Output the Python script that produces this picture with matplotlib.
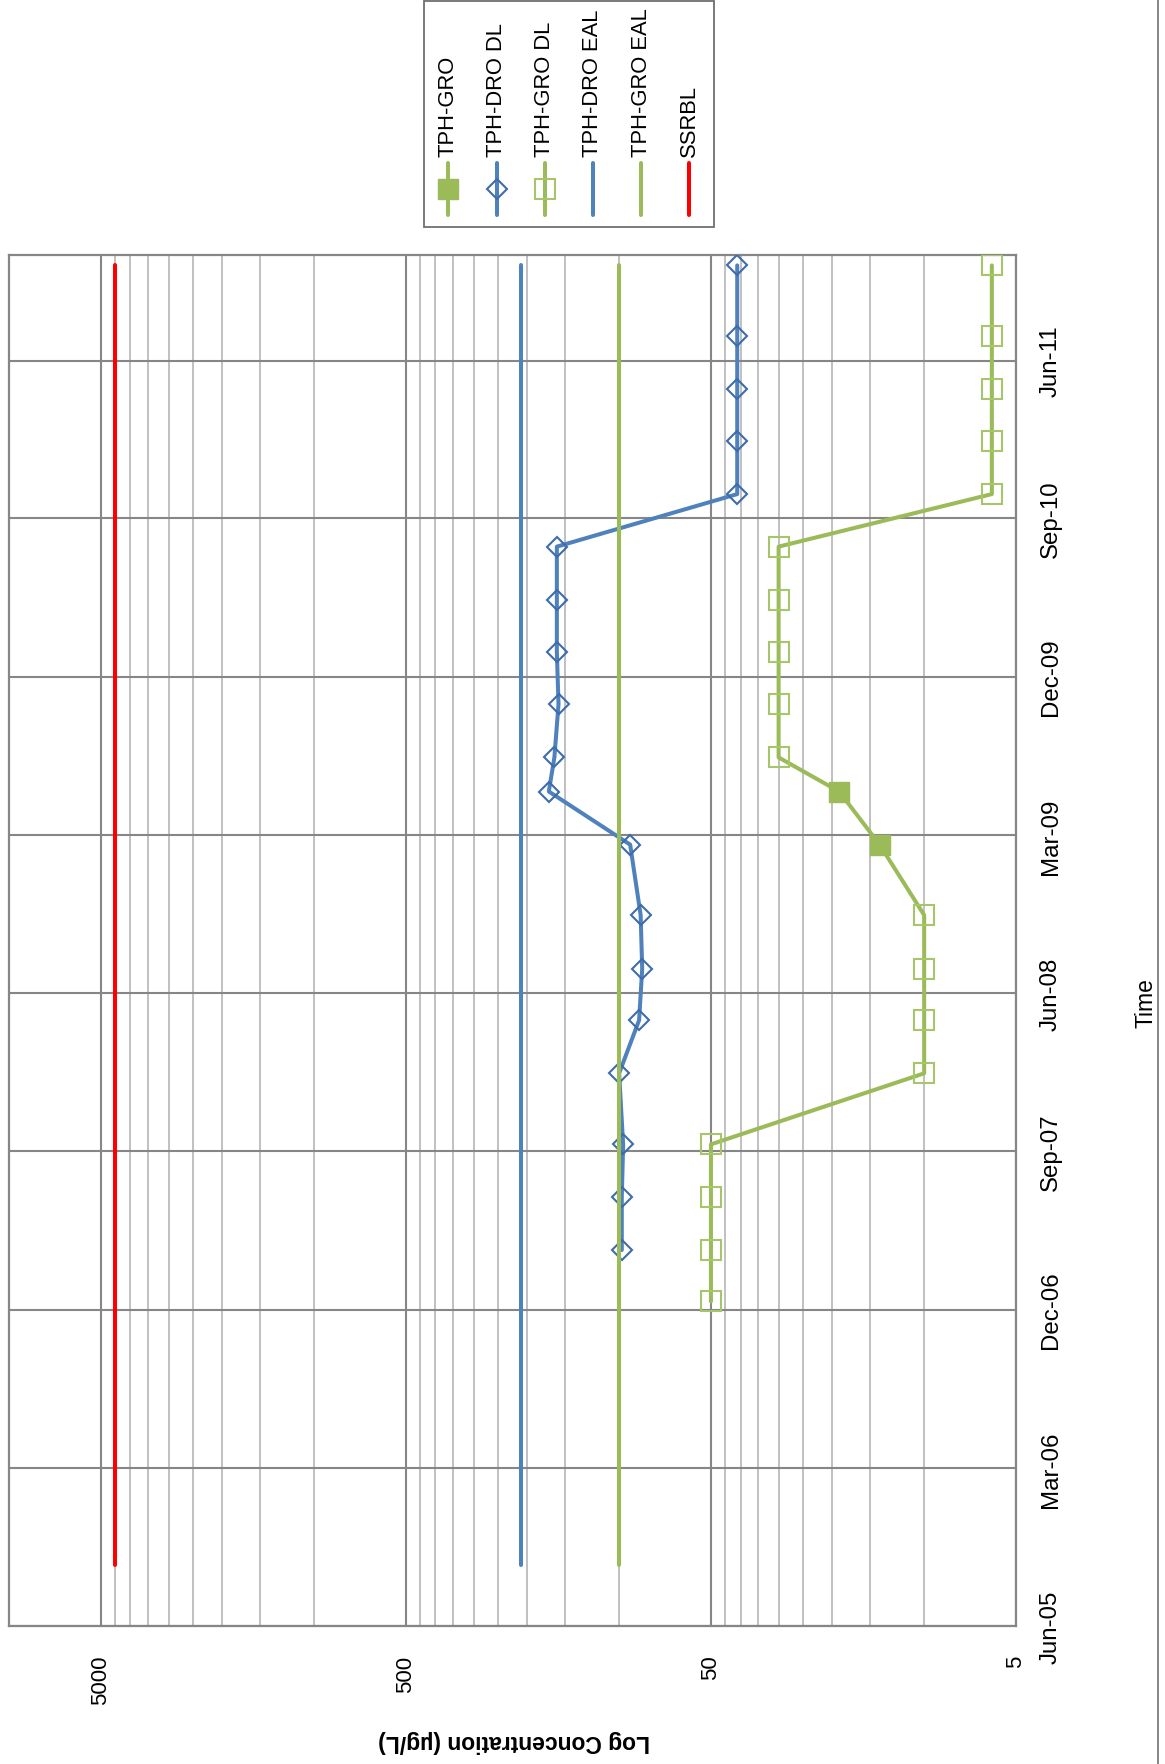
import matplotlib
matplotlib.use("Agg")
import matplotlib.pyplot as plt
import matplotlib.dates as mdates
from matplotlib import font_manager
from matplotlib.ticker import FixedLocator, NullFormatter
import pandas as pd

# ---------------- data ----------------
gro_dl_dates = ['2006-12-15', '2007-03-14', '2007-06-14', '2007-09-13', '2008-01-14',
                '2008-04-15', '2008-07-13', '2008-10-14', '2009-07-14', '2009-10-14',
                '2010-01-13', '2010-04-13', '2010-07-14', '2010-10-13', '2011-01-13',
                '2011-04-13', '2011-07-13', '2011-11-13']
gro_dl_vals = [50, 50, 50, 50, 10, 10, 10, 10, 30, 30, 30, 30, 30, 6, 6, 6, 6, 6]

gro_dates = ['2009-02-13', '2009-05-16']
gro_vals = [14, 19]

dro_dl_dates = ['2007-03-14', '2007-06-14', '2007-09-13', '2008-01-14', '2008-04-15',
                '2008-07-13', '2008-10-14', '2009-02-13', '2009-05-16', '2009-07-14',
                '2009-10-14', '2010-01-13', '2010-04-13', '2010-07-14', '2010-10-13',
                '2011-01-13', '2011-04-13', '2011-07-13', '2011-11-13']
dro_dl_vals = [98, 98, 97, 100, 86, 84, 85, 92, 170, 163, 158, 160, 160, 160,
               41, 41, 41, 41, 41]

limit_dates = ['2005-09-15', '2011-11-13']
dro_eal = [210, 210]
gro_eal = [100, 100]
ssrbl = [4500, 4500]

time_ticks = ['Jun-05', 'Mar-06', 'Dec-06', 'Sep-07', 'Jun-08', 'Mar-09', 'Dec-09',
              'Sep-10', 'Jun-11']
time_range = ['2005-06-01', '2011-12-01']
conc_ticks = [5, 50, 500, 5000]
conc_range = [5, 10000]

legend_labels = ['TPH-GRO', 'TPH-DRO DL', 'TPH-GRO DL', 'TPH-DRO EAL', 'TPH-GRO EAL', 'SSRBL']

# ---------------- fonts ----------------
names = {f.name for f in font_manager.fontManager.ttflist}
narrow = 'Liberation Sans Narrow' if 'Liberation Sans Narrow' in names else None
regular = 'Liberation Sans' if 'Liberation Sans' in names else 'DejaVu Sans'
tick_font = narrow or regular
time_fs = 21.2 if narrow else 17.3
conc_fs = 19.6 if narrow else 16.0

BLUE = '#4F81BD'
BLUE_EDGE = '#3E6CAA'
GREEN = '#9BBB59'
GREEN_EDGE = '#A7C66C'
RED = '#FF0000'
MAJ = '#868686'
MIN = '#C0C0C0'

W, H = 1165, 1765
fig = plt.figure(figsize=(W / 100, H / 100), dpi=100)
fig.patch.set_facecolor('white')

ax = fig.add_axes([9 / W, 1 - 1627 / H, (1016 - 9) / W, (1627 - 256) / H])

to_dt = lambda s: pd.to_datetime(pd.Series(s))

lw = 2.9
# combined GRO line (detects + detection limits, in date order)
gro_all = pd.DataFrame({'d': list(to_dt(gro_dl_dates)) + list(to_dt(gro_dates)),
                        'v': gro_dl_vals + gro_vals}).sort_values('d')
ax.plot(gro_all['v'], gro_all['d'], color=GREEN, lw=lw, solid_capstyle='round', zorder=3)
ax.plot(gro_vals, to_dt(gro_dates), ls='none', marker='s', ms=14.2,
        mfc=GREEN, mec=GREEN, mew=1.0, zorder=4)
ax.plot(dro_dl_vals, to_dt(dro_dl_dates), color=BLUE, lw=lw, solid_capstyle='round',
        marker='D', ms=10.0, mfc='none', mec=BLUE_EDGE, mew=1.5, zorder=5)
ax.plot(gro_dl_vals, to_dt(gro_dl_dates), ls='none', marker='s', ms=13.8,
        mfc='none', mec=GREEN_EDGE, mew=1.5, zorder=6)
ax.plot(dro_eal, to_dt(limit_dates), color=BLUE, lw=lw, solid_capstyle='round', zorder=7)
ax.plot(gro_eal, to_dt(limit_dates), color=GREEN, lw=lw, solid_capstyle='round', zorder=8)
ax.plot(ssrbl, to_dt(limit_dates), color=RED, lw=lw, solid_capstyle='round', zorder=9)

# x axis: log concentration, reversed
ax.set_xscale('log')
ax.set_xlim(conc_range[1], conc_range[0])
ax.xaxis.set_major_locator(FixedLocator(conc_ticks))
ax.set_xticklabels([str(t) for t in conc_ticks], rotation=90, fontsize=conc_fs,
                   fontfamily=tick_font)
minor = [m * 5 * 10 ** k for k in range(0, 3) for m in range(2, 10)]
ax.xaxis.set_minor_locator(FixedLocator(minor))
ax.xaxis.set_minor_formatter(NullFormatter())
ax.tick_params(axis='x', which='both', length=0, pad=20.5)

# y axis: time
ax.set_ylim(pd.to_datetime(time_range[0]), pd.to_datetime(time_range[1]))
tick_dates = pd.to_datetime(time_ticks, format='%b-%y')
ax.set_yticks(tick_dates)
ax.set_yticklabels(time_ticks, rotation=90, va='center', fontsize=time_fs,
                   fontfamily=tick_font)
ax.yaxis.tick_right()
ax.tick_params(axis='y', which='both', length=0, pad=17, labelright=True, labelleft=False)

ax.set_axisbelow(True)
ax.grid(which='major', axis='both', color=MAJ, lw=1.5)
ax.grid(which='minor', axis='x', color=MIN, lw=1.4)
for s in ax.spines.values():
    s.set_color(MAJ)
    s.set_linewidth(1.6)

# ---------------- overlay (legend, titles, border) in pixel coordinates ----------------
ov = fig.add_axes([0, 0, 1, 1], zorder=10)
ov.set_xlim(0, W)
ov.set_ylim(H, 0)
ov.axis('off')
ov.patch.set_visible(False)

ov.plot([1158, 1158], [0, H], color=MAJ, lw=1.4)

ov.text(1146, 1003, 'Time', rotation=90, ha='center', va='center', fontsize=16.5,
        fontfamily=regular)
ov.text(514, 1742, 'Log Concentration (µg/L)', rotation=180, ha='center', va='center',
        fontsize=16.5, fontweight='bold', fontfamily=regular)

# legend box
ov.add_patch(plt.Rectangle((424, 2), 290, 226, fill=False, ec='#6E6E6E', lw=1.3))
lx0, ldx = 448.3, 48.2
styles = [
    dict(color=GREEN, marker='s', ms=14.2, mfc=GREEN, mec=GREEN, mew=1.0),
    dict(color=BLUE, marker='D', ms=10.0, mfc='none', mec=BLUE_EDGE, mew=1.5),
    dict(color=GREEN, marker='s', ms=13.8, mfc='none', mec=GREEN_EDGE, mew=1.5),
    dict(color=BLUE, marker=None),
    dict(color=GREEN, marker=None),
    dict(color=RED, marker=None),
]
for i, (lab, st) in enumerate(zip(legend_labels, styles)):
    x = lx0 + i * ldx
    col = st.pop('color')
    mk = st.pop('marker')
    ov.plot([x, x], [164, 216], color=col, lw=lw, solid_capstyle='round')
    if mk:
        ov.plot([x], [190], ls='none', marker=mk, **st)
    ov.text(x, 157, lab, rotation=90, ha='center', va='bottom', fontsize=15.8,
            fontfamily=regular)

fig.savefig('out.png', dpi=100, facecolor='white')
